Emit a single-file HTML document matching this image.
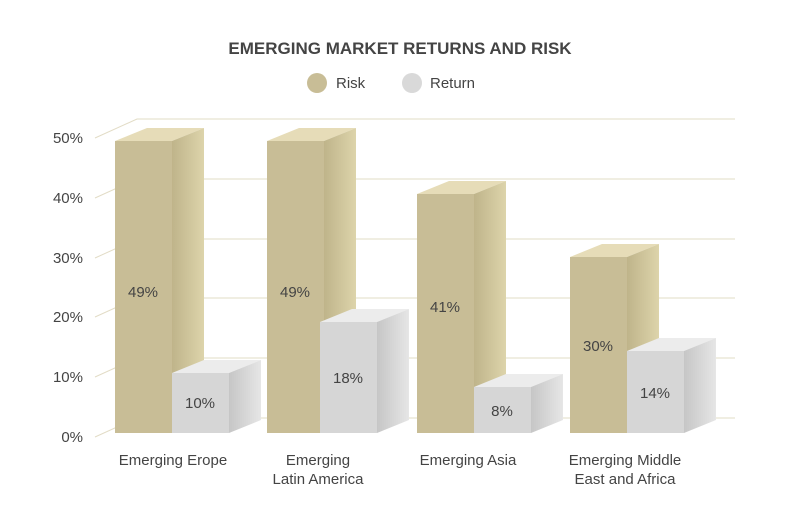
<!DOCTYPE html>
<html><head><meta charset="utf-8"><style>
html,body{margin:0;padding:0;background:#fff;}
svg{display:block;font-family:"Liberation Sans","DejaVu Sans",sans-serif;}
</style></head><body>
<svg width="800" height="508" viewBox="0 0 800 508" xmlns="http://www.w3.org/2000/svg">
<defs>
<linearGradient id="rs" x1="0" x2="1"><stop offset="0" stop-color="#bfb48a"/><stop offset="1" stop-color="#ddd4ab"/></linearGradient>
<linearGradient id="gs" x1="0" x2="1"><stop offset="0" stop-color="#c6c6c6"/><stop offset="1" stop-color="#e6e6e6"/></linearGradient>
</defs>
<text x="400" y="54" text-anchor="middle" font-size="17" font-weight="bold" fill="#444">EMERGING MARKET RETURNS AND RISK</text>
<circle cx="317" cy="83" r="10" fill="#c8bd96"/>
<text x="336" y="88" font-size="15" fill="#444">Risk</text>
<circle cx="412" cy="83" r="10" fill="#d9d9d9"/>
<text x="430" y="88" font-size="15" fill="#444">Return</text>
<g stroke="#e2dcc6" stroke-width="1" fill="none">
<path d="M95 437L137 418H735"/>
<path d="M95 377L137 358H735"/>
<path d="M95 317L137 298H735"/>
<path d="M95 258L137 239H735"/>
<path d="M95 198L137 179H735"/>
<path d="M95 138L137 119H735"/>
</g>
<g font-size="15" fill="#444" text-anchor="end">
<text x="83" y="442">0%</text>
<text x="83" y="382">10%</text>
<text x="83" y="322">20%</text>
<text x="83" y="263">30%</text>
<text x="83" y="203">40%</text>
<text x="83" y="143">50%</text>
</g>
<!-- bars: front x, width 57, depth 32/13 -->
<g>
<!-- group1 -->
<polygon points="115,141 147,128 204,128 172,141" fill="#e6dcb8"/>
<polygon points="172,141 204,128 204,420 172,433" fill="url(#rs)"/>
<rect x="115" y="141" width="57" height="292" fill="#c8bd96"/>
<polygon points="172,373 204,360 261,360 229,373" fill="#ececec"/>
<polygon points="229,373 261,360 261,420 229,433" fill="url(#gs)"/>
<rect x="172" y="373" width="57" height="60" fill="#d6d6d6"/>
<!-- group2 -->
<polygon points="267,141 299,128 356,128 324,141" fill="#e6dcb8"/>
<polygon points="324,141 356,128 356,420 324,433" fill="url(#rs)"/>
<rect x="267" y="141" width="57" height="292" fill="#c8bd96"/>
<polygon points="320,322 352,309 409,309 377,322" fill="#ececec"/>
<polygon points="377,322 409,309 409,420 377,433" fill="url(#gs)"/>
<rect x="320" y="322" width="57" height="111" fill="#d6d6d6"/>
<!-- group3 -->
<polygon points="417,194 449,181 506,181 474,194" fill="#e6dcb8"/>
<polygon points="474,194 506,181 506,420 474,433" fill="url(#rs)"/>
<rect x="417" y="194" width="57" height="239" fill="#c8bd96"/>
<polygon points="474,387 506,374 563,374 531,387" fill="#ececec"/>
<polygon points="531,387 563,374 563,420 531,433" fill="url(#gs)"/>
<rect x="474" y="387" width="57" height="46" fill="#d6d6d6"/>
<!-- group4 -->
<polygon points="570,257 602,244 659,244 627,257" fill="#e6dcb8"/>
<polygon points="627,257 659,244 659,420 627,433" fill="url(#rs)"/>
<rect x="570" y="257" width="57" height="176" fill="#c8bd96"/>
<polygon points="627,351 659,338 716,338 684,351" fill="#ececec"/>
<polygon points="684,351 716,338 716,420 684,433" fill="url(#gs)"/>
<rect x="627" y="351" width="57" height="82" fill="#d6d6d6"/>
</g>
<g font-size="15" fill="#444" text-anchor="middle">
<text x="143" y="297">49%</text>
<text x="200" y="408">10%</text>
<text x="295" y="297">49%</text>
<text x="348" y="383">18%</text>
<text x="445" y="312">41%</text>
<text x="502" y="416">8%</text>
<text x="598" y="351">30%</text>
<text x="655" y="398">14%</text>
<text x="173" y="465">Emerging Erope</text>
<text x="318" y="465">Emerging</text>
<text x="318" y="484">Latin America</text>
<text x="468" y="465">Emerging Asia</text>
<text x="625" y="465">Emerging Middle</text>
<text x="625" y="484">East and Africa</text>
</g>
</svg>
</body></html>
